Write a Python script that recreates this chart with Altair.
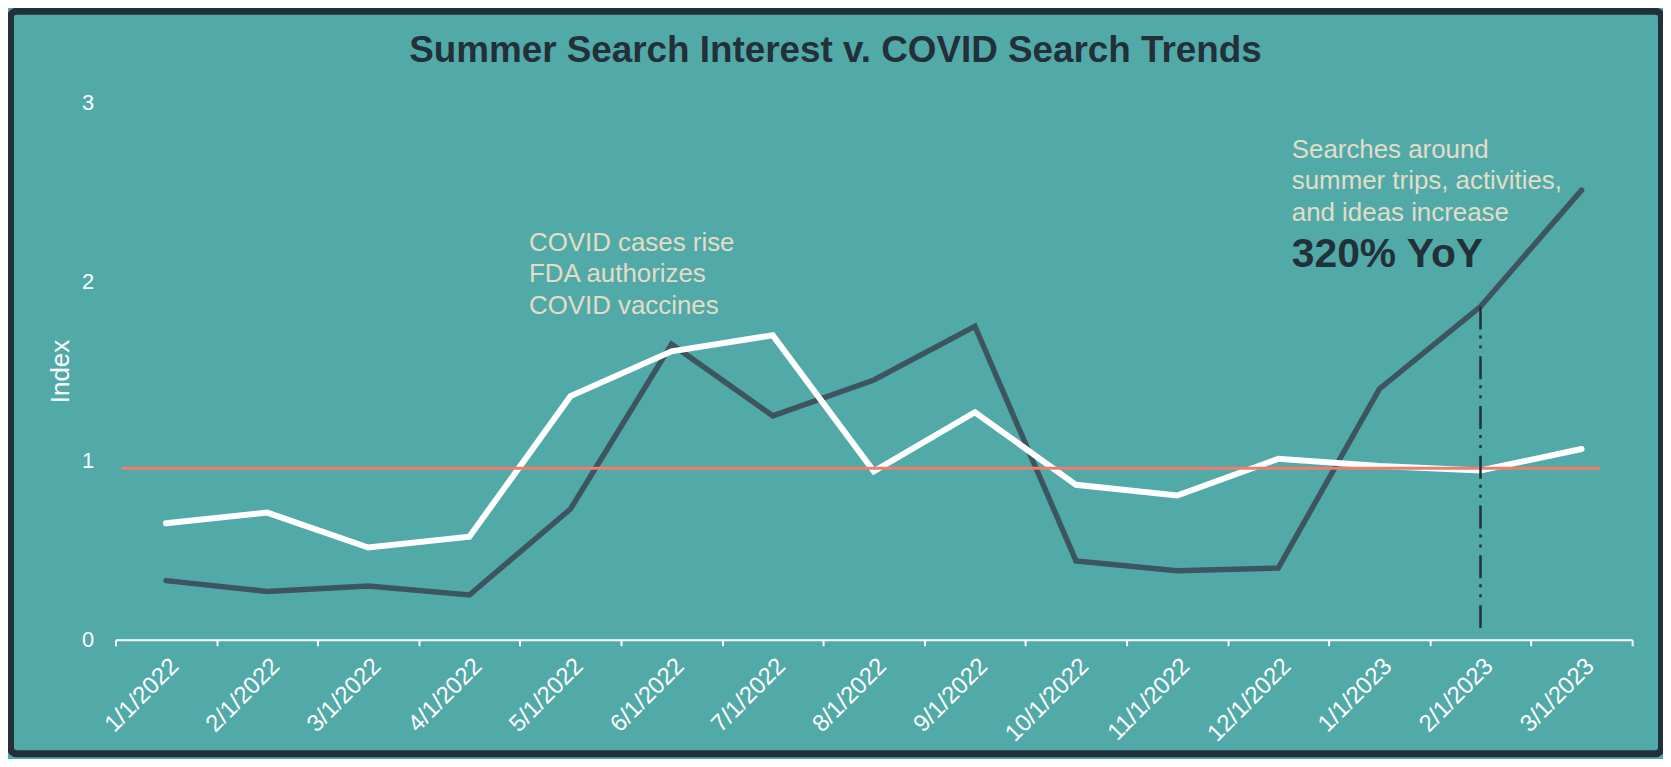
import altair as alt
import pandas as pd

# ---- data ----
months = ["1/1/2022", "2/1/2022", "3/1/2022", "4/1/2022", "5/1/2022", "6/1/2022",
          "7/1/2022", "8/1/2022", "9/1/2022", "10/1/2022", "11/1/2022", "12/1/2022",
          "1/1/2023", "2/1/2023", "3/1/2023"]
summer_search = [0.33, 0.27, 0.30, 0.25, 0.73, 1.65, 1.25, 1.45, 1.75, 0.44, 0.385, 0.40,
                 1.40, 1.86, 2.51]
covid_search = [0.65, 0.71, 0.515, 0.575, 1.36, 1.61, 1.70, 0.94, 1.27, 0.865, 0.805, 1.01,
                0.97, 0.945, 1.065]
baseline_value = 0.957
marker_month = "2/1/2023"
marker_bottom = 0.05
y_ticks = [0, 1, 2, 3]

title_text = "Summer Search Interest v. COVID Search Trends"
note_left = "COVID cases rise\nFDA authorizes\nCOVID vaccines"
note_right = "Searches around\nsummer trips, activities,\nand ideas increase"
note_big = "320% YoY"

# ---- styling ----
BG = "#52AAA8"
DARK = "#22303A"
LINE_DARK = "#3D555F"
BEIGE = "#E2DDC6"
SALMON = "#F07C70"
FONT = "Liberation Sans"

W, H = 1524, 540

summer_df = pd.DataFrame({"month": months, "value": summer_search})
covid_df = pd.DataFrame({"month": months, "value": covid_search})
marker_df = pd.DataFrame({
    "month": [marker_month],
    "top": [summer_search[months.index(marker_month)]],
    "bottom": [marker_bottom],
})
base_df = pd.DataFrame({"value": [baseline_value]})
one = pd.DataFrame({"k": [0]})

x_enc = alt.X(
    "month:N",
    sort=months,
    scale=alt.Scale(type="band", paddingInner=0, paddingOuter=0),
    axis=alt.Axis(
        title=None,
        tickBand="extent",
        domainColor="white", domainWidth=2,
        tickColor="white", tickWidth=2, tickSize=6,
        labelColor="white", labelFontSize=24, labelFont=FONT,
        labelAngle=315, labelAlign="right", labelBaseline="top",
        labelPadding=8, labelOverlap=False,
    ),
)
y_scale = alt.Scale(domain=[0, 3])
y_axis = alt.Axis(
    values=y_ticks, format="d", grid=False, domain=False, ticks=False,
    labelColor="white", labelFontSize=22, labelFont=FONT, labelPadding=22,
    title="Index", titleColor="white", titleFontSize=26, titleFont=FONT,
    titleFontWeight="normal", titleAngle=270, titleX=-55, titleY=270,
    titleAlign="center", titleBaseline="middle",
)

frame = alt.Chart(one).mark_rect(
    fillOpacity=0, stroke=DARK, strokeWidth=7, cornerRadius=6
).encode(
    x=alt.value(-105.5), x2=alt.value(1553.5),
    y=alt.value(-91.5), y2=alt.value(654.5),
)

dark_line = alt.Chart(summer_df).mark_line(
    color=LINE_DARK, strokeWidth=5.5, strokeCap="round"
).encode(x=x_enc, y=alt.Y("value:Q", scale=y_scale, axis=y_axis))

white_line = alt.Chart(covid_df).mark_line(
    color="white", strokeWidth=6, strokeCap="round"
).encode(x=alt.X("month:N", sort=months), y=alt.Y("value:Q"))

base_rule = alt.Chart(base_df).mark_rule(color=SALMON, strokeWidth=3).encode(
    y=alt.Y("value:Q"), x=alt.value(6), x2=alt.value(1492)
)

marker_rule = alt.Chart(marker_df).mark_rule(
    color=DARK, strokeWidth=2.5, strokeDash=[23, 6, 3, 7, 3, 8]
).encode(x=alt.X("month:N", sort=months), y=alt.Y("top:Q"), y2="bottom:Q")

title = alt.Chart(one).mark_text(
    font=FONT, fontSize=37, fontWeight="bold", color=DARK,
    align="center", baseline="alphabetic"
).encode(x=alt.value(723.5), y=alt.value(-40.3), text=alt.value(title_text))

left_note = alt.Chart(one).mark_text(
    font=FONT, fontSize=26, color=BEIGE, align="left", baseline="alphabetic",
    lineBreak="\n", lineHeight=31.7
).encode(x=alt.value(415.5), y=alt.value(149), text=alt.value(note_left))

right_note = alt.Chart(one).mark_text(
    font=FONT, fontSize=26, color=BEIGE, align="left", baseline="alphabetic",
    lineBreak="\n", lineHeight=31.7
).encode(x=alt.value(1182), y=alt.value(55.7), text=alt.value(note_right))

big_note = alt.Chart(one).mark_text(
    font=FONT, fontSize=41, fontWeight="bold", color=DARK,
    align="left", baseline="alphabetic"
).encode(x=alt.value(1182), y=alt.value(165.7), text=alt.value(note_big))

chart = alt.layer(
    frame, dark_line, white_line, base_rule, marker_rule,
    title, left_note, right_note, big_note
).properties(
    width=W, height=H,
    autosize=alt.AutoSizeParams(type="none"),
    padding={"left": 108, "top": 93, "right": 31, "bottom": 118},
    background=BG,
).configure_view(strokeWidth=0)

chart.save("out.html", embed_options={"renderer": "svg", "actions": False})
